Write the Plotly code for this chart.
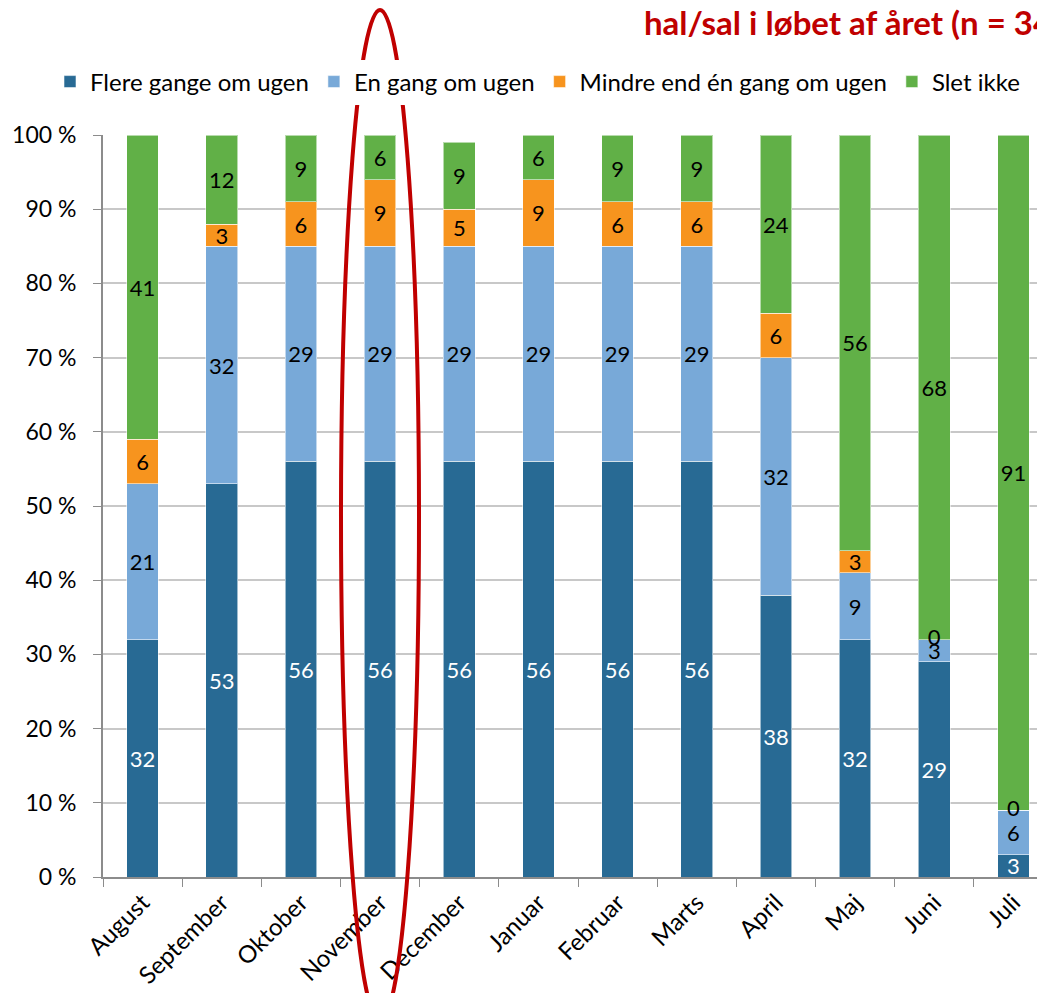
import plotly.graph_objects as go

months = ["August", "September", "Oktober", "November", "December", "Januar",
          "Februar", "Marts", "April", "Maj", "Juni", "Juli"]
flere = [32, 53, 56, 56, 56, 56, 56, 56, 38, 32, 29, 3]
en_gang = [21, 32, 29, 29, 29, 29, 29, 29, 32, 9, 3, 6]
mindre = [6, 3, 6, 9, 5, 9, 6, 6, 6, 3, 0, 0]
slet = [41, 12, 9, 6, 9, 6, 9, 9, 24, 56, 68, 91]

series = [
    ("Flere gange om ugen", flere, "#286A94", "white"),
    ("En gang om ugen", en_gang, "#78A9D8", "black"),
    ("Mindre end én gang om ugen", mindre, "#F7941E", "black"),
    ("Slet ikke", slet, "#61B047", "black"),
]

FONT = "Lato, Carlito, Calibri, sans-serif"
W, H = 1045, 993
OFF = 8  # page body margin
L, R, T, B = 103 - OFF, 0, 135 - OFF, 993 - (877 - OFF)
pw, ph = W - L - R, H - T - B


def px_x(sx):
    return (sx - OFF - L) / pw


def px_y(sy):
    return (H - B - (sy - OFF)) / ph


fig = go.Figure()
for name, vals, color, tcolor in series:
    fig.add_trace(go.Bar(
        name=name, x=months, y=vals,
        marker=dict(color=color, line=dict(color="rgba(255,255,255,0.55)", width=1)),
        text=[str(v) if v > 0 else "" for v in vals],
        textposition="inside", insidetextanchor="middle", textangle=0,
        textfont=dict(family=FONT, size=22, color=tcolor),
        constraintext="none", cliponaxis=False,
    ))

# zero-valued "Mindre" labels sit at the top of the light-blue segment
zx, zy = [], []
for i, m in enumerate(months):
    if mindre[i] == 0:
        zx.append(m)
        zy.append(flere[i] + en_gang[i])
fig.add_trace(go.Scatter(x=zx, y=zy, mode="text", text=["0"] * len(zx),
                         textfont=dict(family=FONT, size=22, color="black"),
                         showlegend=False, hoverinfo="skip", cliponaxis=False))

fig.update_layout(
    width=W, height=H,
    margin=dict(l=L, r=R, t=T, b=B, autoexpand=False),
    barmode="stack", bargap=0.6,
    plot_bgcolor="white", paper_bgcolor="white",
    font=dict(family=FONT, size=22, color="black"),
    showlegend=True,
    legend=dict(orientation="h", x=px_x(50), xanchor="left",
                y=px_y(82), yanchor="middle",
                font=dict(family=FONT, size=24, color="black"),
                itemwidth=30, tracegroupgap=0, traceorder="normal"),
    xaxis=dict(range=[-0.5, 11.5], tickangle=-45, ticks="outside", tickson="boundaries",
               ticklen=8, tickcolor="#8C8C8C", showline=True, linecolor="#8C8C8C",
               linewidth=2, tickfont=dict(family=FONT, size=24, color="black"),
               showgrid=False, automargin=False),
    yaxis=dict(range=[0, 100], dtick=10, ticksuffix=" %", ticks="outside", ticklen=8,
               tickcolor="#8C8C8C", showline=True, linecolor="#8C8C8C", linewidth=2,
               gridcolor="#C8C8C8", gridwidth=1.5, zeroline=False, automargin=False,
               ticklabelstandoff=12,
               tickfont=dict(family=FONT, size=23, color="black")),
    annotations=[dict(text="<b>hal/sal i løbet af året (n = 34)</b>", xref="paper", yref="paper",
                      x=px_x(642), y=px_y(22), xanchor="left", yanchor="middle",
                      showarrow=False, font=dict(family=FONT, size=33, color="#C00000"))],
    shapes=[dict(type="circle", xref="paper", yref="paper",
                 x0=px_x(341), x1=px_x(419), y0=px_y(1022), y1=px_y(10),
                 line=dict(color="#C00000", width=4), layer="above")],
)

fig.write_html("out.html")
